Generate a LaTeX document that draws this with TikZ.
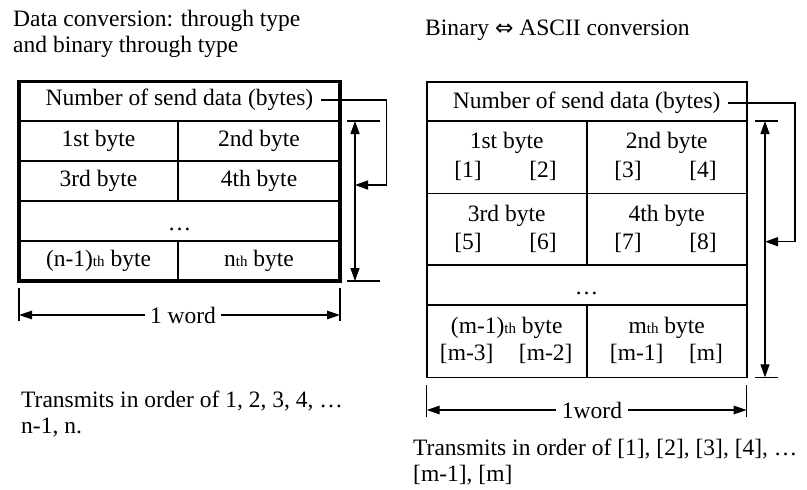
\documentclass[tikz,border=0pt]{standalone}
\usepackage{fontspec}
\setmainfont{Liberation Serif}
\newfontfamily\symfont{DejaVu Sans}
\usetikzlibrary{arrows.meta}
\newcommand{\smth}{{\fontsize{15}{15}\selectfont th}}
\begin{document}
\begin{tikzpicture}[x=1pt,y=-1pt,
  txt/.style={font=\fontsize{23.5}{28}\selectfont, inner sep=0pt},
  cell/.style={txt, text height=16.5pt, text depth=5pt},
  frameL/.style={line width=3.6pt},
  gridL/.style={line width=1.4pt},
  gridR/.style={line width=1.6pt},
  tickline/.style={line width=1.2pt},
  dimline/.style={line width=1.3pt, {Triangle[length=13pt,width=9pt]}-{Triangle[length=13pt,width=9pt]}},
  halfdim/.style={line width=1.3pt, -{Triangle[length=13pt,width=8.5pt]}},
  conn/.style={line width=1.3pt, -{Triangle[length=13pt,width=9pt]}}
]
\useasboundingbox (0,0) rectangle (807,490);

% ---------------- titles
\node[txt, anchor=base west] (tl1) at (13,26.5) {Data conversion: through type};
\node[txt, anchor=base west] (tl2) at (13,52.5) {and binary through type};
\node[txt, anchor=base west] (tr) at (425,35) {Binary {\symfont\fontsize{22}{22}\selectfont ⇔} ASCII conversion};

% ---------------- left table
\draw[gridL] (19,121) -- (340,121) (19,161) -- (340,161) (19,201) -- (340,201) (19,241) -- (340,241);
\draw[gridL] (178,121) -- (178,201) (178,241) -- (178,281);
\draw[frameL] (19,81.5) rectangle (340,281);

\node[cell] (hdrL) at (179.5,100) {Number of send data (bytes)};
\node[cell] (b1L) at (98.5,141) {1st byte};
\node[cell] (b2L) at (259,141) {2nd byte};
\node[cell] (b3L) at (98.5,181) {3rd byte};
\node[cell] (b4L) at (259,181) {4th byte};
\node[cell] (dotsL) at (179.5,225) {…};
\node[cell] (bn1L) at (98.5,261) {(n-1)\smth{} byte};
\node[cell] (bnL) at (259,261) {n\smth{} byte};

% left vertical dimension
\draw[tickline] (347,121) -- (380,121) (347,281) -- (380,281);
\coordinate (vLt) at (355,121);
\coordinate (vLb) at (355,281);
\draw[dimline] (vLt) -- (vLb);
\coordinate (cLturn) at (386.7,185);
\coordinate (cLend) at (355,185);
\draw[conn] ([xshift=7.5pt]hdrL.east) -| (cLturn) -- (cLend);

% left horizontal dimension
\draw[tickline] (19,288) -- (19,321) (340,288) -- (340,321);
\coordinate (hLl) at (19,315);
\coordinate (hLr) at (340,315);
\node[txt, inner xsep=5pt] (wordL) at (183,315) {1 word};
\draw[halfdim] (wordL.west) -- (hLl);
\draw[halfdim] (wordL.east) -- (hLr);

% ---------------- right table
\draw[gridR] (426.7,121) -- (746.7,121) (426.7,193.3) -- (746.7,193.3) (426.7,265) -- (746.7,265) (426.7,305) -- (746.7,305);
\draw[gridR] (586.7,121) -- (586.7,265) (586.7,305) -- (586.7,377.3);
\draw[gridR] (426.7,81.7) rectangle (746.7,377.3);

\node[cell] (hdrR) at (586.7,103) {Number of send data (bytes)};
\node[cell] (b1R) at (506.7,143) {1st byte};
\node[cell] (i1) at (468,171.5) {[1]};
\node[cell] (i2) at (543,171.5) {[2]};
\node[cell] (b2R) at (666.7,143) {2nd byte};
\node[cell] (i3) at (628,171.5) {[3]};
\node[cell] (i4) at (703,171.5) {[4]};
\node[cell] (b3R) at (506.7,215.5) {3rd byte};
\node[cell] (i5) at (468,243.5) {[5]};
\node[cell] (i6) at (543,243.5) {[6]};
\node[cell] (b4R) at (666.7,215.5) {4th byte};
\node[cell] (i7) at (628,243.5) {[7]};
\node[cell] (i8) at (703,243.5) {[8]};
\node[cell] (dotsR) at (586.7,289) {…};
\node[cell] (bm1R) at (506.7,327.5) {(m-1)\smth{} byte};
\node[cell] (im3) at (466.7,355) {[m-3]};
\node[cell] (im2) at (545.7,355) {[m-2]};
\node[cell] (bmR) at (666.7,327.5) {m\smth{} byte};
\node[cell] (im1) at (636.7,355) {[m-1]};
\node[cell] (im) at (706,355) {[m]};

% right vertical dimension
\draw[tickline] (755,121) -- (778.3,121) (755,377.3) -- (778.3,377.3);
\coordinate (vRt) at (765,121);
\coordinate (vRb) at (765,377.3);
\draw[dimline] (vRt) -- (vRb);
\coordinate (cRturn) at (795,241.7);
\coordinate (cRend) at (765,241.7);
\draw[conn] ([xshift=7.5pt]hdrR.east) -| (cRturn) -- (cRend);

% right horizontal dimension
\draw[tickline] (426.7,385) -- (426.7,416.7) (746.7,385) -- (746.7,416.7);
\coordinate (hRl) at (426.7,410);
\coordinate (hRr) at (746.7,410);
\node[txt, inner xsep=6pt] (wordR) at (592,410) {1word};
\draw[halfdim] (wordR.west) -- (hRl);
\draw[halfdim] (wordR.east) -- (hRr);

% ---------------- notes
\node[txt, anchor=base west] (bl1) at (21,407) {Transmits in order of 1, 2, 3, 4, …};
\node[txt, anchor=base west] (bl2) at (21,433) {n-1, n.};
\node[txt, anchor=base west] (br1) at (413,455) {Transmits in order of [1], [2], [3], [4], …};
\node[txt, anchor=base west] (br2) at (413,481) {[m-1], [m]};
\end{tikzpicture}
\end{document}
